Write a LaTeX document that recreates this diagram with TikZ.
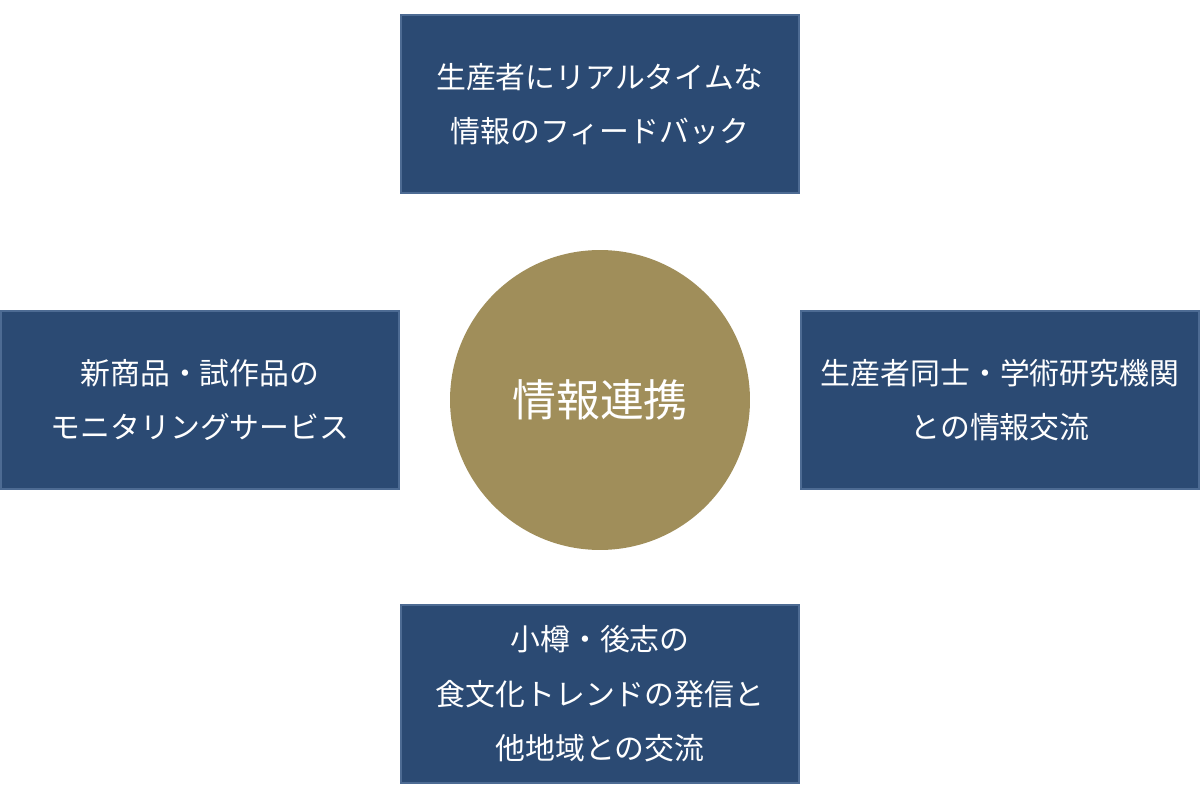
\documentclass[tikz,border=0pt]{standalone}
\usepackage{fontspec}
\setmainfont{Noto Sans CJK JP}
\usepackage{xcolor}
\usetikzlibrary{positioning}
\definecolor{navybox}{HTML}{2B4A73}
\definecolor{navyedge}{HTML}{4D6B93}
\definecolor{goldcircle}{HTML}{A08E5A}

\begin{document}
\begin{tikzpicture}[x=0.02cm, y=-0.02cm,
    topic/.style={rectangle, draw=navyedge, fill=navybox, line width=0.04cm, text=white,
        minimum width=7.96cm, minimum height=3.56cm, align=center,
        font=\fontsize{17}{31}\selectfont},
    hub/.style={circle, fill=goldcircle, text=white, minimum size=6cm, inner sep=0pt,
        font=\fontsize{25}{30}\selectfont}]

    % Canvas
    \useasboundingbox (0,0) rectangle (1200,800);

    % Central hub
    \node[hub] (link) at (600,400) {情報連携};

    % Topic boxes around the hub
    \node[topic] (feedback) at (600,104) {生産者にリアルタイムな\\情報のフィードバック};
    \node[topic] (monitor) at (200,400) {新商品・試作品の\\モニタリングサービス};
    \node[topic] (exchange) at (1000,400) {生産者同士・学術研究機関\\との情報交流};
    \node[topic] (trend) at (600,694) {小樽・後志の\\食文化トレンドの発信と\\他地域との交流};

\end{tikzpicture}
\end{document}
